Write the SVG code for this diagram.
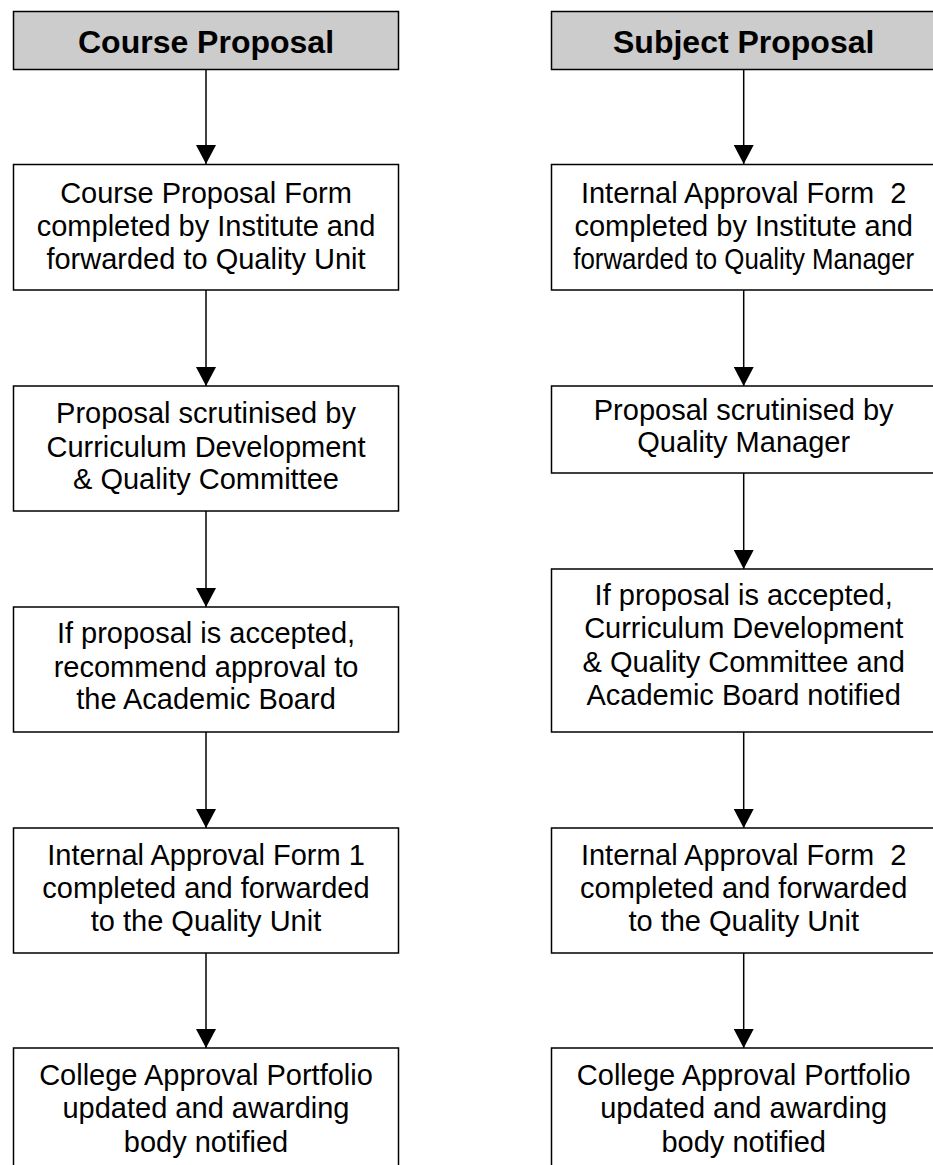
<svg xmlns="http://www.w3.org/2000/svg" width="933" height="1165" viewBox="0 0 933 1165">
<style>
.box{fill:#ffffff;stroke:#000000;stroke-width:1.5}
.hdr{fill:#cccccc;stroke:#000000;stroke-width:1.5}
.t{font-family:"Liberation Sans",Arial,sans-serif;font-size:29px;fill:#000000;text-anchor:middle}
.h{font-family:"Liberation Sans",Arial,sans-serif;font-size:32px;font-weight:bold;fill:#000000;text-anchor:middle}
.c{stroke:#000000;stroke-width:1.5;fill:none;marker-end:url(#ah)}
</style>
<defs>
<marker id="ah" viewBox="0 0 19 20" refX="19" refY="10" markerWidth="19" markerHeight="20" markerUnits="userSpaceOnUse" orient="auto">
<path d="M0,0 L19,10 L0,20 z" fill="#000000"/>
</marker>
</defs>
<rect width="933" height="1165" fill="#ffffff"/>
<g id="connectors">
<line class="c" x1="206" y1="69" x2="206" y2="164"/>
<line class="c" x1="206" y1="290" x2="206" y2="386"/>
<line class="c" x1="206" y1="511" x2="206" y2="607"/>
<line class="c" x1="206" y1="732" x2="206" y2="828"/>
<line class="c" x1="206" y1="953" x2="206" y2="1048"/>
<line class="c" x1="743.7" y1="69" x2="743.7" y2="164"/>
<line class="c" x1="743.7" y1="290" x2="743.7" y2="386"/>
<line class="c" x1="743.7" y1="473" x2="743.7" y2="569"/>
<line class="c" x1="743.7" y1="732" x2="743.7" y2="828"/>
<line class="c" x1="743.7" y1="953" x2="743.7" y2="1048"/>
</g>
<g id="course-header">
<rect class="hdr" x="13.5" y="11.5" width="385" height="58"/>
<text class="h" x="206" y="52.5">Course Proposal</text>
</g>
<g id="course-1">
<rect class="box" x="13.5" y="164.5" width="385" height="125.5"/>
<text class="t" x="206" y="202.7">Course Proposal Form</text>
<text class="t" x="206" y="235.7">completed by Institute and</text>
<text class="t" x="206" y="268.5">forwarded to Quality Unit</text>
</g>
<g id="course-2">
<rect class="box" x="13.5" y="386" width="385" height="125"/>
<text class="t" x="206" y="423.3">Proposal scrutinised by</text>
<text class="t" x="206" y="456.5">Curriculum Development</text>
<text class="t" x="206" y="489.3">&amp; Quality Committee</text>
</g>
<g id="course-3">
<rect class="box" x="13.5" y="607" width="385" height="125"/>
<text class="t" x="206" y="643.3">If proposal is accepted,</text>
<text class="t" x="206" y="676.5">recommend approval to</text>
<text class="t" x="206" y="709.3">the Academic Board</text>
</g>
<g id="course-4">
<rect class="box" x="13.5" y="828" width="385" height="125"/>
<text class="t" x="206" y="865">Internal Approval Form 1</text>
<text class="t" x="206" y="898.3">completed and forwarded</text>
<text class="t" x="206" y="931">to the Quality Unit</text>
</g>
<g id="course-5">
<rect class="box" x="13.5" y="1048" width="385" height="140"/>
<text class="t" x="206" y="1085">College Approval Portfolio</text>
<text class="t" x="206" y="1118.3">updated and awarding</text>
<text class="t" x="206" y="1151.5">body notified</text>
</g>
<g id="subject-header">
<rect class="hdr" x="551.5" y="11.5" width="385" height="58"/>
<text class="h" x="743.7" y="52.5">Subject Proposal</text>
</g>
<g id="subject-1">
<rect class="box" x="551.5" y="164.5" width="385" height="125.5"/>
<text class="t" x="743.7" y="202.7" xml:space="preserve">Internal Approval Form  2</text>
<text class="t" x="743.7" y="235.7">completed by Institute and</text>
<text class="t" x="743.7" y="268.5" textLength="341" lengthAdjust="spacingAndGlyphs">forwarded to Quality Manager</text>
</g>
<g id="subject-2">
<rect class="box" x="551.5" y="386" width="385" height="87"/>
<text class="t" x="743.7" y="420">Proposal scrutinised by</text>
<text class="t" x="743.7" y="451.7">Quality Manager</text>
</g>
<g id="subject-3">
<rect class="box" x="551.5" y="569" width="385" height="163"/>
<text class="t" x="743.7" y="605">If proposal is accepted,</text>
<text class="t" x="743.7" y="638.3">Curriculum Development</text>
<text class="t" x="743.7" y="671.7">&amp; Quality Committee and</text>
<text class="t" x="743.7" y="705">Academic Board notified</text>
</g>
<g id="subject-4">
<rect class="box" x="551.5" y="828" width="385" height="125"/>
<text class="t" x="743.7" y="865" xml:space="preserve">Internal Approval Form  2</text>
<text class="t" x="743.7" y="898.3">completed and forwarded</text>
<text class="t" x="743.7" y="931">to the Quality Unit</text>
</g>
<g id="subject-5">
<rect class="box" x="551.5" y="1048" width="385" height="140"/>
<text class="t" x="743.7" y="1085">College Approval Portfolio</text>
<text class="t" x="743.7" y="1118.3">updated and awarding</text>
<text class="t" x="743.7" y="1151.5">body notified</text>
</g>
</svg>
